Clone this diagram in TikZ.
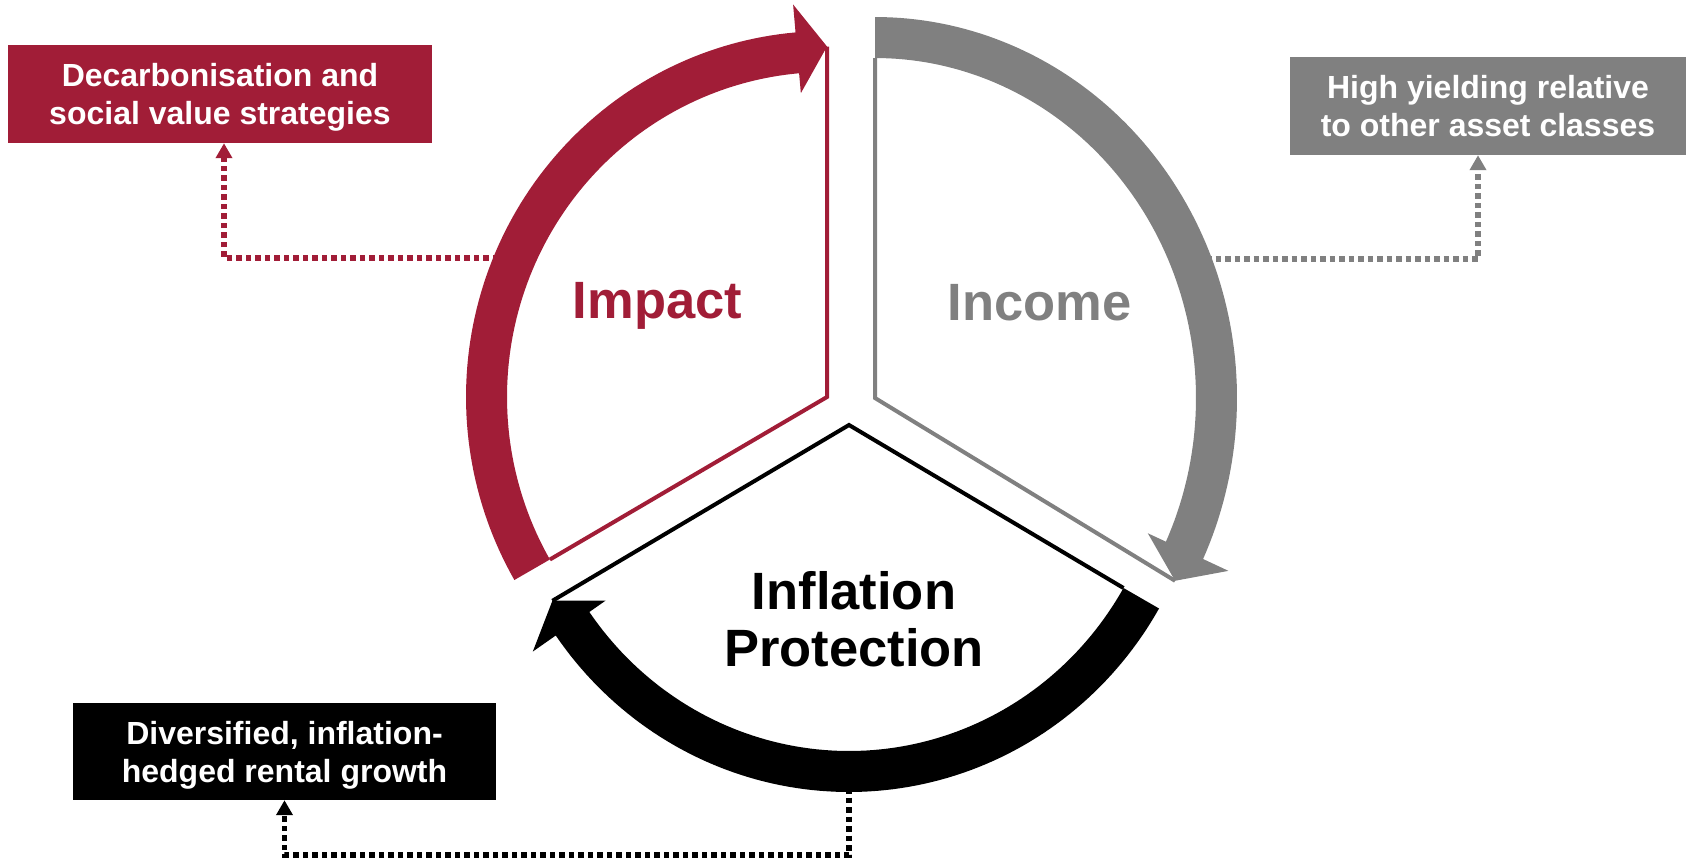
\documentclass[tikz,border=0pt]{standalone}
\usepackage{fontspec}
\setmainfont{Liberation Sans}
\usetikzlibrary{arrows.meta}
\definecolor{impred}{RGB}{161,29,55}
\definecolor{incgray}{RGB}{128,128,128}
% #1 colour, #2 cx, #3 cy, #4 start angle, #5 end angle, #6 outer x radius, #7 outer y radius
\newcommand{\bandarrow}[7]{%
  \fill[#1] plot[domain=#4:#5, samples=90, variable=\t] ({#2+#6*cos(\t)},{#3+#7*sin(\t)})
    -- ({#2+(#6+28)*cos(#5)},{#3+(#7+28)*sin(#5)})
    -- ({#2+(#6-15.5)*cos(#5+5)},{#3+(#7-15.5)*sin(#5+5)})
    -- ({#2+(#6-61)*cos(#5)},{#3+(#7-61)*sin(#5)})
    -- plot[domain=#5:#4, samples=90, variable=\t] ({#2+(#6-41)*cos(\t)},{#3+(#7-41)*sin(\t)})
    -- cycle;}
\tikzset{
  infobox/.style={inner sep=0pt, align=center, text=white, text depth=0pt,
    font=\bfseries\fontsize{32}{38}\selectfont},
  biglabel/.style={inner sep=0pt, font=\bfseries\fontsize{52.5}{57}\selectfont},
  sectorline/.style={line width=4pt, line join=miter},
  dotlink/.style={line width=5.5pt, dash pattern=on 5.5pt off 4pt,
    -{Triangle[length=15pt,width=16pt]}},
}
\begin{document}
\begin{tikzpicture}[x=1pt,y=-1pt]
\useasboundingbox (0,0) rectangle (1690,860);

% info boxes
\node[infobox, fill=impred, minimum width=424, minimum height=98] (rbox) at (220,94)
  {Decarbonisation and\\social value strategies};
\node[infobox, fill=incgray, minimum width=396, minimum height=98] (gbox) at (1488,106)
  {High yielding relative\\to other asset classes};
\node[infobox, fill=black, minimum width=423, minimum height=97] (bbox) at (284.5,751.5)
  {Diversified, inflation-\\hedged rental growth};

% connector anchors on the arcs
\coordinate (rC) at (498,258);
\coordinate (gC) at (1206,259);
\coordinate (bC) at (849,788);
\coordinate (bturn) at (849,855);

\draw[dotlink, impred] (rC) -| ([xshift=4pt]rbox.south);
\draw[dotlink, incgray] (gC) -| ([xshift=-10pt]gbox.south);
\draw[dotlink, black] (bC) -- (bturn) -| (bbox.south);

% sector vertices and edge ends
\coordinate (VR) at (827,397);
\coordinate (VRtip) at (827,46.5);
\coordinate (VRend) at (549.9,559.5);
\coordinate (VG) at (875,398);
\coordinate (VGtop) at (875,58);
\coordinate (VGtip) at (1175.1,580.8);
\coordinate (VB) at (849,425);
\coordinate (VBend) at (1123.5,588);
\coordinate (VBtip) at (552.4,600.8);

\draw[sectorline, impred] (VRtip) -- (VR) -- (VRend);
\draw[sectorline, incgray] (VGtop) -- (VG) -- (VGtip);
\draw[sectorline, black] (VBend) -- (VB) -- (VBtip);

% circular arrows
\bandarrow{impred}{827}{397}{150}{265}{361}{366}
\bandarrow{incgray}{875}{398}{270}{385}{362}{381}
\bandarrow{black}{849}{425}{30}{145}{358}{367}

% labels
\node[biglabel, text=impred, anchor=base] (impact) at (657.5,318) {Impact};
\node[biglabel, text=incgray, anchor=base] (income) at (1039.5,320) {Income};
\node[biglabel, text=black, align=center, text depth=0pt] (infl) at (854,619)
  {Inflation\\Protection};
\end{tikzpicture}
\end{document}
